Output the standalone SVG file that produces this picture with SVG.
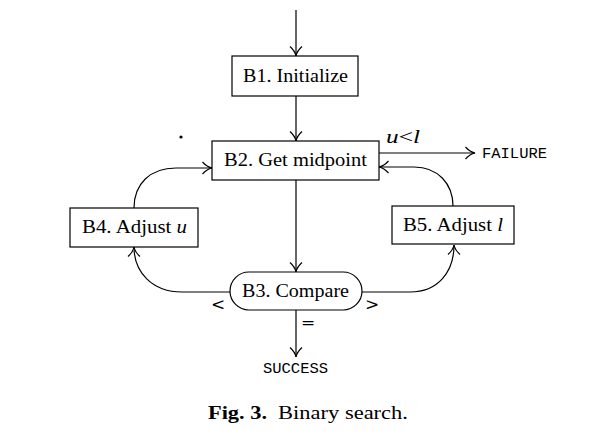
<svg xmlns="http://www.w3.org/2000/svg" width="615" height="443" viewBox="0 0 615 443">
<style>
.box{fill:#fff;stroke:#000;stroke-width:1.2}
.t{font-family:"Liberation Serif","DejaVu Serif",serif;font-size:18px;fill:#000}
.s{font-family:"DejaVu Serif","Liberation Serif",serif;font-size:17px;fill:#000}
.m{font-family:"Liberation Mono","DejaVu Sans Mono",monospace;font-size:14px;fill:#000}
.c{fill:none;stroke:#000;stroke-width:1.2}
</style>
<defs>
<marker id="ah" markerUnits="userSpaceOnUse" markerWidth="16" markerHeight="16" refX="11" refY="7" orient="auto" viewBox="0 0 16 14">
<path d="M1.5,1 Q6,6 11,7 Q6,8 1.5,13" fill="none" stroke="#000" stroke-width="1.2"/>
</marker>
</defs>
<rect width="615" height="443" fill="#fff"/>
<g id="connectors">
<path class="c" d="M296,10 L296,56" marker-end="url(#ah)"/>
<path class="c" d="M296,96 L296,141" marker-end="url(#ah)"/>
<path class="c" d="M296,180 L296,272" marker-end="url(#ah)"/>
<path class="c" d="M296,310 L296,357" marker-end="url(#ah)"/>
<path class="c" d="M379,153 L475,153" marker-end="url(#ah)"/>
<path class="c" d="M134,208 C134,184 150,168 176,168 L212,168" marker-end="url(#ah)"/>
<path class="c" d="M230,292 L182,292 C152,292 134,272 134,247" marker-end="url(#ah)"/>
<path class="c" d="M362,292 L410,292 C438,292 454,272 454,245" marker-end="url(#ah)"/>
<path class="c" d="M453,206 C453,184 438,167 414,167 L379,167" marker-end="url(#ah)"/>
</g>
<g id="B1"><rect class="box" x="232" y="56" width="126" height="40"/><text class="t" x="243" y="82" textLength="105" lengthAdjust="spacingAndGlyphs">B1. Initialize</text></g>
<g id="B2"><rect class="box" x="212" y="141" width="167" height="39"/><text class="t" x="224" y="166" textLength="143" lengthAdjust="spacingAndGlyphs">B2. Get midpoint</text></g>
<g id="B3"><rect class="box" x="230" y="272" width="132" height="38" rx="19" ry="19"/><text class="t" x="242" y="297" textLength="107" lengthAdjust="spacingAndGlyphs">B3. Compare</text></g>
<g id="B4"><rect class="box" x="70" y="208" width="128" height="39"/><text class="t" x="82" y="233" textLength="105" lengthAdjust="spacingAndGlyphs">B4. Adjust <tspan font-style="italic">u</tspan></text></g>
<g id="B5"><rect class="box" x="392" y="206" width="122" height="38"/><text class="t" x="403" y="231" textLength="100" lengthAdjust="spacingAndGlyphs">B5. Adjust <tspan font-style="italic">l</tspan></text></g>
<g id="labels">
<text class="t" x="386" y="143" textLength="34" lengthAdjust="spacingAndGlyphs"><tspan font-style="italic">u</tspan><tspan>&lt;</tspan><tspan font-style="italic">l</tspan></text>
<text class="m" x="482" y="158" textLength="65" lengthAdjust="spacingAndGlyphs">FAILURE</text>
<text class="m" x="263" y="373" textLength="65" lengthAdjust="spacingAndGlyphs">SUCCESS</text>
<text class="s" x="218" y="310" text-anchor="middle">&lt;</text>
<text class="s" x="372" y="310" text-anchor="middle">&gt;</text>
<text class="s" x="308" y="328" text-anchor="middle">=</text>
<circle cx="181" cy="137" r="1.6" fill="#000"/>
<text class="t" x="208" y="419" textLength="59" lengthAdjust="spacingAndGlyphs" font-weight="bold">Fig. 3.</text>
<text class="t" x="278" y="419" textLength="130" lengthAdjust="spacingAndGlyphs">Binary search.</text>
</g>
</svg>
